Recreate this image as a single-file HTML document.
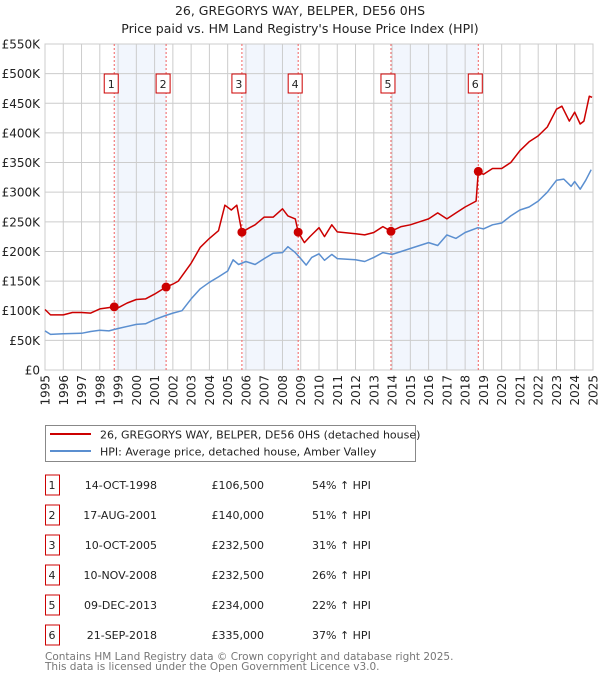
<!DOCTYPE html>
<html><head><meta charset="utf-8">
<style>
body{margin:0;background:#fff;font-family:"DejaVu Sans","Liberation Sans",sans-serif;}
svg text{font-family:"DejaVu Sans","Liberation Sans",sans-serif;}
</style></head>
<body>
<svg id="c" width="600" height="680" xmlns="http://www.w3.org/2000/svg">
<text x="300" y="15" text-anchor="middle" font-size="12.5" fill="#222">26, GREGORYS WAY, BELPER, DE56 0HS</text>
<text x="300" y="33" text-anchor="middle" font-size="12.5" fill="#222">Price paid vs. HM Land Registry's House Price Index (HPI)</text>
<g id="plot"></g>
<g>
<rect x="45.5" y="425.5" width="370" height="36" fill="#fff" stroke="#888"/>
<line x1="50" y1="434" x2="91" y2="434" stroke="#cc0000" stroke-width="2"/>
<text x="100" y="438.5" font-size="11" fill="#222">26, GREGORYS WAY, BELPER, DE56 0HS (detached house)</text>
<line x1="50" y1="451" x2="91" y2="451" stroke="#5b8fd0" stroke-width="2"/>
<text x="100" y="455.5" font-size="11" fill="#222">HPI: Average price, detached house, Amber Valley</text>
</g>
<g id="tbl"></g>
<text x="45" y="660" font-size="10.5" fill="#777">Contains HM Land Registry data © Crown copyright and database right 2025.</text>
<text x="45" y="670" font-size="10.5" fill="#777">This data is licensed under the Open Government Licence v3.0.</text>
</svg>
<script>
const yTicks=[0,50,100,150,200,250,300,350,400,450,500,550];
const yTickLabels=["£0","£50K","£100K","£150K","£200K","£250K","£300K","£350K","£400K","£450K","£500K","£550K"];
const xYears=[1995,1996,1997,1998,1999,2000,2001,2002,2003,2004,2005,2006,2007,2008,2009,2010,2011,2012,2013,2014,2015,2016,2017,2018,2019,2020,2021,2022,2023,2024,2025];
const saleDates=[1998.79,2001.63,2005.78,2008.86,2013.94,2018.72];
const salePrices=[106.5,140,232.5,232.5,234,335];
const saleLabels=["1","2","3","4","5","6"];
const saleDateText=["14-OCT-1998","17-AUG-2001","10-OCT-2005","10-NOV-2008","09-DEC-2013","21-SEP-2018"];
const salePriceText=["£106,500","£140,000","£232,500","£232,500","£234,000","£335,000"];
const saleHpiText=["54% ↑ HPI","51% ↑ HPI","31% ↑ HPI","26% ↑ HPI","22% ↑ HPI","37% ↑ HPI"];
const redT=[1995,1995.3,1996,1996.5,1997,1997.5,1998,1998.79,1999,1999.5,2000,2000.5,2001,2001.63,2002,2002.3,2003,2003.5,2004,2004.5,2004.85,2005.2,2005.5,2005.78,2006.2,2006.5,2007,2007.5,2008,2008.3,2008.7,2008.86,2009.2,2009.5,2010,2010.3,2010.7,2011,2012,2012.5,2013,2013.5,2013.94,2014.5,2015,2015.5,2016,2016.5,2017,2017.5,2018,2018.6,2018.72,2019,2019.5,2020,2020.5,2021,2021.5,2022,2022.5,2023,2023.3,2023.7,2024,2024.3,2024.5,2024.8,2024.95];
const redV=[102,93,93,97,97,96,103,106.5,105,113,119,120,128,140,145,150,180,207,222,235,278,270,278,232.5,240,245,258,258,272,260,255,232.5,215,225,240,225,245,233,230,228,232,242,234,242,245,250,255,265,255,265,275,285,335,330,340,340,350,370,385,395,410,440,445,420,435,415,420,462,460];
const blueT=[1995,1995.3,1996,1997,1997.5,1998,1998.5,1999,2000,2000.5,2001,2001.6,2002,2002.5,2003,2003.5,2004,2004.5,2005,2005.3,2005.6,2006,2006.5,2007,2007.5,2008,2008.3,2008.7,2009,2009.3,2009.6,2010,2010.3,2010.7,2011,2012,2012.5,2013,2013.5,2014,2014.5,2015,2016,2016.5,2017,2017.5,2018,2018.7,2019,2019.5,2020,2020.5,2021,2021.5,2022,2022.5,2023,2023.4,2023.8,2024,2024.3,2024.6,2024.9];
const blueV=[66,60,61,62,65,67,66,70,77,78,85,92,96,100,120,137,148,157,167,186,178,183,178,188,197,198,208,198,188,177,190,196,185,195,188,186,183,190,198,195,200,205,215,210,228,222,232,240,238,245,248,260,270,275,285,300,320,322,310,318,305,320,338];

const NS="http://www.w3.org/2000/svg";
const X0=45,X1=593,Y0=370,Y1=44;
const xs=y=>X0+(y-1995)/30*(X1-X0);
const ys=v=>Y0-v/550*(Y0-Y1);
const plot=document.getElementById('plot');
function mk(tag,attrs,parent){const e=document.createElementNS(NS,tag);for(const k in attrs)e.setAttribute(k,attrs[k]);(parent||plot).appendChild(e);return e;}
for(let i=0;i<saleDates.length;i+=2){
  const r=mk('rect',{x:xs(saleDates[i])+1,y:Y1,width:xs(saleDates[i+1])-xs(saleDates[i])-1,height:Y0-Y1,fill:'#f2f6fd'});
  
  
}
yTicks.forEach((t,i)=>{
  const l=mk('line',{x1:X0,x2:X1,y1:ys(t),y2:ys(t),stroke:'#ccc','stroke-width':1});
  
  
  const tx=mk('text',{x:40,y:ys(t)+4.5,'text-anchor':'end','font-size':12,fill:'#222'});
  tx.textContent=yTickLabels[i];
  
  
});
xYears.forEach(yr=>{
  const l=mk('line',{x1:xs(yr),x2:xs(yr),y1:Y1,y2:Y0,stroke:'#ccc','stroke-width':1});
  
  
  const tx=mk('text',{x:0,y:0,'text-anchor':'end','font-size':12,fill:'#222',transform:`translate(${xs(yr)+4.5},375) rotate(-90)`});
  tx.textContent=yr;
  
  
});
const fr=mk('rect',{x:X0,y:Y1,width:X1-X0,height:Y0-Y1,fill:'none',stroke:'#ccc'});


saleDates.forEach((d,i)=>{
  const l=mk('line',{x1:xs(d),x2:xs(d),y1:Y1,y2:Y0,stroke:'#f06060','stroke-width':1,'stroke-dasharray':'2,2'});
  
  
  const b=mk('rect',{x:xs(d)-10,y:74,width:14,height:19,fill:'#fff',stroke:'#cc0000'});
  
  
  const t=mk('text',{x:xs(d)-3,y:88,'text-anchor':'middle','font-size':11,fill:'#222'});
  t.textContent=saleLabels[i];
  
  
});
function path(T,V,color,name){
  const d=T.map((t,i)=>(i?'L':'M')+xs(t).toFixed(1)+','+ys(V[i]).toFixed(1)).join('');
  const p=mk('path',{d:d,fill:'none',stroke:color,'stroke-width':1.5,'stroke-linejoin':'round'});
  
  
}
path(blueT,blueV,'#5b8fd0','hpi-line');
path(redT,redV,'#cc0000','price-line');
saleDates.forEach((d,i)=>{
  const c=mk('circle',{cx:xs(d),cy:ys(salePrices[i]),r:4.5,fill:'#cc0000'});
  
  
});
const tbl=document.getElementById('tbl');
saleDates.forEach((d,i)=>{
  const y=485+i*30;
  const b=mk('rect',{x:45.5,y:y-10,width:14,height:20,fill:'#fff',stroke:'#cc0000'},tbl);
  
  
  const cells=[[52,'middle',saleLabels[i],'table-number'],[157,'end',saleDateText[i],'table-date'],[264,'end',salePriceText[i],'table-price'],[312,'start',saleHpiText[i],'table-hpi-change']];
  cells.forEach(c=>{
    const t=mk('text',{x:c[0],y:y+4,'text-anchor':c[1],'font-size':11,fill:'#222'},tbl);
    t.textContent=c[2];
    
    
  });
});
</script>
</body></html>
